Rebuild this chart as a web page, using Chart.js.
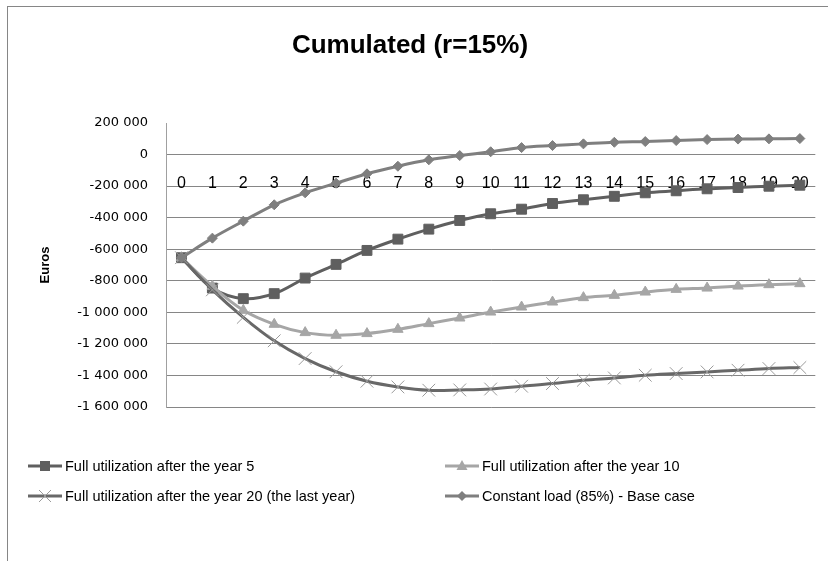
<!DOCTYPE html>
<html>
<head>
<meta charset="utf-8">
<script src="https://cdn.jsdelivr.net/npm/chart.js@4.4.1/dist/chart.umd.min.js"></script>
<style>
  html, body { margin: 0; padding: 0; background: #ffffff; }
  #wrap { position: relative; width: 828px; height: 561px; overflow: hidden; background: #fff; }
  #frame { position: absolute; left: 7px; top: 6px; width: 900px; height: 700px;
           border-top: 1px solid #868686; border-left: 1px solid #868686; box-sizing: border-box; }
  #chart { position: absolute; left: 0; top: 0; }
  .lg { position: absolute; height: 20px; display: flex; align-items: center; white-space: nowrap;
        font-family: "Liberation Sans", Arial, sans-serif; font-size: 14.5px; color: #000; }
  .lg svg { margin-right: 3px; }
</style>
</head>
<body>
<div id="wrap">
  <div id="frame"></div>
  <canvas id="chart" width="828" height="561"></canvas>
  <div id="legend"></div>
</div>
<script>
// ---- data ----
const years = ['0','1','2','3','4','5','6','7','8','9','10','11','12','13','14','15','16','17','18','19','20'];
const seriesNames = [
  'Full utilization after the year 5',
  'Full utilization after the year 10',
  'Full utilization after the year 20 (the last year)',
  'Constant load (85%) - Base case'
];
const fullAfter5 = [-653800, -846200, -913300, -881600, -782900, -696200, -607600, -536100, -472800, -417700,
  -375300, -346200, -310100, -286700, -264600, -242400, -229700, -217100, -208900, -200600, -194300];
const fullAfter10 = [-653800, -835400, -987300, -1075900, -1128500, -1145500, -1134800, -1107600, -1071500, -1036000,
  -998100, -966400, -934800, -906900, -892400, -871500, -854400, -846200, -833500, -824700, -818300];
const fullAfter20 = [-653800, -857600, -1031600, -1180400, -1293000, -1376600, -1436700, -1472700, -1493600, -1491700,
  -1486000, -1468300, -1451300, -1430400, -1415800, -1398700, -1388000, -1377800, -1367100, -1356300, -1350000];
const constantLoad = [-653800, -529700, -422100, -318300, -242400, -181600, -122100, -74000, -33500, -6300,
  17700, 44300, 57000, 67700, 77800, 82300, 88600, 95000, 98000, 99400, 101300];
const yMin = -1600000, yMax = 200000, yStep = 200000;

// ---- styles ----
const styles = [
  { line: '#5f5f5f', fill: '#5f5f5f', pt: 'rect', r: 7, bw: 1 },
  { line: '#a6a6a6', fill: '#a6a6a6', pt: 'triangle', r: 6, bw: 1 },
  { line: '#686868', fill: '#9a9a9a', pt: 'crossRot', r: 9, bw: 1 },
  { line: '#7f7f7f', fill: '#7f7f7f', pt: 'rectRot', r: 5, bw: 1 }
];
const allData = [fullAfter5, fullAfter10, fullAfter20, constantLoad];

function fmt(v) {
  const s = String(Math.abs(v)).replace(/\B(?=(\d{3})+(?!\d))/g, ' ');
  return (v < 0 ? '-' : '') + s;
}

const datasets = allData.map((d, i) => ({
  label: seriesNames[i],
  data: d,
  borderColor: styles[i].line,
  backgroundColor: styles[i].fill,
  borderWidth: 3,
  tension: 0.35,
  pointStyle: styles[i].pt,
  pointRadius: styles[i].r,
  pointHoverRadius: styles[i].r,
  pointBackgroundColor: styles[i].fill,
  pointBorderColor: styles[i].fill,
  pointBorderWidth: styles[i].bw,
  order: 4 - i
}));

new Chart(document.getElementById('chart'), {
  type: 'line',
  data: { labels: years, datasets: datasets },
  options: {
    responsive: false,
    animation: false,
    devicePixelRatio: 1,
    layout: { padding: { left: 0, right: 8, top: 0, bottom: 154 } },
    plugins: {
      legend: { display: false },
      tooltip: { enabled: false },
      title: {
        display: true,
        text: 'Cumulated (r=15%)',
        color: '#000',
        font: { family: '"Liberation Sans", Arial, sans-serif', size: 26, weight: 'bold' },
        padding: { top: 30, bottom: 61.8 }
      }
    },
    scales: {
      x: {
        type: 'category',
        offset: true,
        position: { y: 0 },
        z: 1,
        grid: { display: false, drawTicks: false },
        border: { display: false },
        ticks: {
          color: '#000',
          padding: 19,
          maxRotation: 0,
          autoSkip: false,
          font: { family: '"Liberation Sans", Arial, sans-serif', size: 16 }
        }
      },
      y: {
        min: yMin,
        max: yMax,
        afterFit: (s) => { s.width = 166; },
        grid: {
          drawTicks: false,
          color: (ctx) => (ctx.tick && ctx.tick.value === yMax) ? 'rgba(0,0,0,0)' : '#868686',
          lineWidth: 1
        },
        border: { display: true, color: '#a0a0a0', width: 1 },
        ticks: {
          stepSize: yStep,
          padding: 18,
          color: '#000',
          font: { family: '"DejaVu Sans", sans-serif', size: 13 },
          callback: (v) => fmt(v)
        },
        title: {
          display: true,
          text: 'Euros',
          color: '#000',
          font: { family: '"Liberation Sans", Arial, sans-serif', size: 13, weight: 'bold' },
          padding: { top: 38, bottom: 0 }
        }
      }
    }
  }
});

// ---- HTML legend (two columns) ----
const legendPos = [
  { x: 28, y: 456 },
  { x: 445, y: 456 },
  { x: 28, y: 486 },
  { x: 445, y: 486 }
];
function markerSvg(st) {
  const cx = 17, cy = 10;
  let m = '';
  if (st.pt === 'rect') m = `<rect x="${cx-5}" y="${cy-5}" width="10" height="10" fill="${st.fill}"/>`;
  else if (st.pt === 'triangle') m = `<polygon points="${cx},${cy-6} ${cx+5.5},${cy+4} ${cx-5.5},${cy+4}" fill="${st.fill}"/>`;
  else if (st.pt === 'crossRot') m = `<path d="M${cx-6} ${cy-6}L${cx+6} ${cy+6}M${cx+6} ${cy-6}L${cx-6} ${cy+6}" stroke="${st.fill}" stroke-width="1"/>`;
  else m = `<polygon points="${cx},${cy-5} ${cx+5},${cy} ${cx},${cy+5} ${cx-5},${cy}" fill="${st.fill}"/>`;
  return `<svg width="34" height="20" viewBox="0 0 34 20"><line x1="0" y1="10" x2="34" y2="10" stroke="${st.line}" stroke-width="3"/>${m}</svg>`;
}
const lg = document.getElementById('legend');
seriesNames.forEach((name, i) => {
  const d = document.createElement('div');
  d.className = 'lg';
  d.style.left = legendPos[i].x + 'px';
  d.style.top = legendPos[i].y + 'px';
  d.innerHTML = markerSvg(styles[i]) + '<span></span>';
  d.querySelector('span').textContent = name;
  lg.appendChild(d);
});
</script>
</body>
</html>
